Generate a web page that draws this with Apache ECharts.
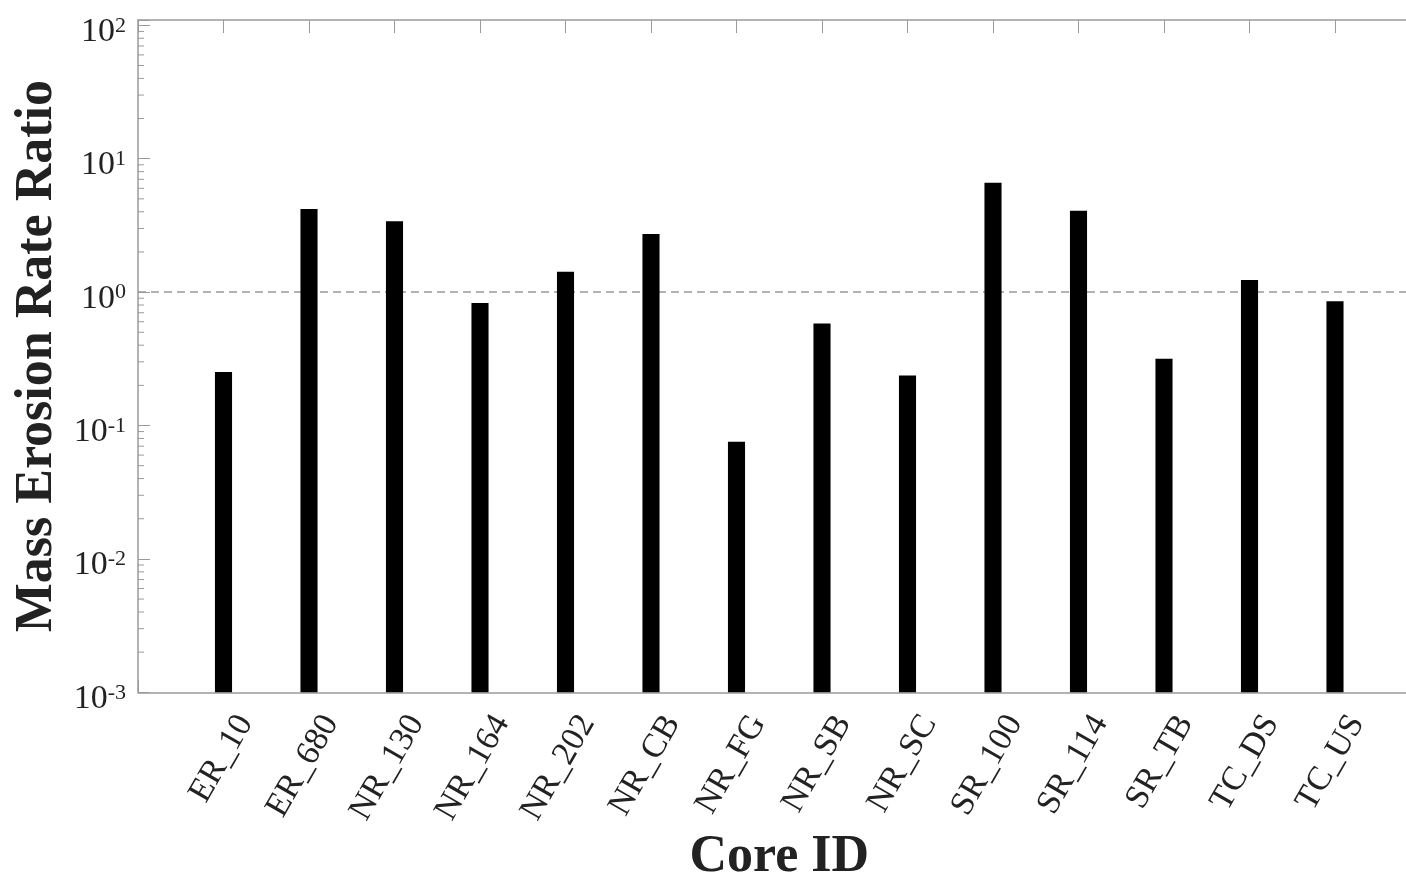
<!DOCTYPE html>
<html>
<head>
<meta charset="utf-8">
<script src="https://cdn.jsdelivr.net/npm/echarts@6/dist/echarts.min.js"></script>
<style>
body { margin: 0; padding: 0; background: #fff; }
#chart { width: 1406px; height: 882px; }
</style>
</head>
<body>
<div id="chart"></div>
<script>
// core IDs and mass erosion rate ratios
const cores = ["ER_10", "ER_680", "NR_130", "NR_164", "NR_202", "NR_CB", "NR_FG",
  "NR_SB", "NR_SC", "SR_100", "SR_114", "SR_TB", "TC_DS", "TC_US"];
const ratios = [0.252, 4.20, 3.40, 0.830, 1.42, 2.73, 0.0757,
  0.581, 0.237, 6.59, 4.08, 0.316, 1.23, 0.853];
const yMin = 0.001;
const yMax = 109.6;
const refLine = 1;

const serif = "Liberation Serif";
const axisGray = "#9a9a9a";
const textColor = "#222";

// minor tick values 2..9 in each decade
const minorTicks = [];
for (let e = -3; e < 2; e++) {
  for (let k = 2; k <= 9; k++) minorTicks.push(k * Math.pow(10, e));
}

const barData = cores.map((c, i) => [i + 1, ratios[i]]);

const chart = echarts.init(document.getElementById("chart"));
chart.setOption({
  animation: false,
  grid: { left: 138, top: 20, width: 1282.5, height: 672.3, outerBoundsMode: "none" },
  xAxis: [
    {
      type: "value",
      min: 0,
      max: 15,
      interval: 1,
      name: "Core ID",
      nameLocation: "middle",
      nameGap: 139,
      nameMoveOverlap: false,
      nameTextStyle: { fontFamily: serif, fontWeight: "bold", fontSize: 52, color: textColor },
      splitLine: { show: false },
      axisLine: { lineStyle: { color: axisGray, width: 1.5 } },
      axisTick: { inside: true, length: 12, lineStyle: { color: axisGray } },
      axisLabel: {
        rotate: 60,
        margin: 13,
        verticalAlign: "top",
        padding: [8, 0, 0, 0],
        fontFamily: serif,
        fontSize: 34,
        color: textColor,
        formatter: v => cores[v - 1] || ""
      }
    },
    {
      type: "value",
      position: "top",
      min: 0,
      max: 15,
      interval: 1,
      splitLine: { show: false },
      axisLine: { lineStyle: { color: axisGray, width: 1.5 } },
      axisTick: { inside: true, length: 13, lineStyle: { color: axisGray } },
      axisLabel: { show: false }
    }
  ],
  yAxis: {
    type: "log",
    logBase: 10,
    min: yMin,
    max: yMax,
    name: "Mass Erosion Rate Ratio",
    nameLocation: "middle",
    nameGap: 74,
    nameMoveOverlap: false,
    nameTextStyle: { fontFamily: serif, fontWeight: "bold", fontSize: 52, color: textColor },
    splitLine: { show: false },
    axisLine: { show: true, lineStyle: { color: axisGray, width: 1.5 } },
    axisTick: { inside: true, length: 12, lineStyle: { color: axisGray } },
    axisLabel: {
      margin: 12,
      padding: [13, 0, 0, 0],
      color: textColor,
      formatter: v => {
        const lg = Math.log10(v);
        const e = Math.round(lg);
        if (Math.abs(lg - e) > 1e-6) return "";
        return "{b|10}{s|" + e + "}";
      },
      rich: {
        b: { fontFamily: serif, fontSize: 34, lineHeight: 34, color: textColor },
        s: { fontFamily: serif, fontSize: 22, verticalAlign: "top", color: textColor }
      }
    }
  },
  series: [
    {
      type: "custom",
      name: "minor ticks",
      silent: true,
      data: minorTicks.map(v => [0, v]),
      renderItem: (params, api) => {
        const p = api.coord([api.value(0), api.value(1)]);
        return {
          type: "line",
          shape: { x1: p[0], y1: p[1], x2: p[0] + 6, y2: p[1] },
          style: { stroke: axisGray, lineWidth: 1 }
        };
      }
    },
    {
      type: "line",
      name: "ratio = 1",
      data: [[0, refLine], [15, refLine]],
      symbol: "none",
      silent: true,
      lineStyle: { color: "#999", width: 1.5, type: [8, 5] },
      z: 1
    },
    {
      type: "custom",
      name: "ratio",
      data: barData,
      renderItem: (params, api) => {
        const x = api.value(0);
        const top = api.coord([x, api.value(1)]);
        const base = api.coord([x, yMin]);
        const w = api.size([0.2, 0])[0];
        return {
          type: "rect",
          shape: { x: top[0] - w / 2, y: top[1], width: w, height: base[1] - top[1] },
          style: { fill: "#000" }
        };
      },
      z: 3
    }
  ]
});
</script>
</body>
</html>
